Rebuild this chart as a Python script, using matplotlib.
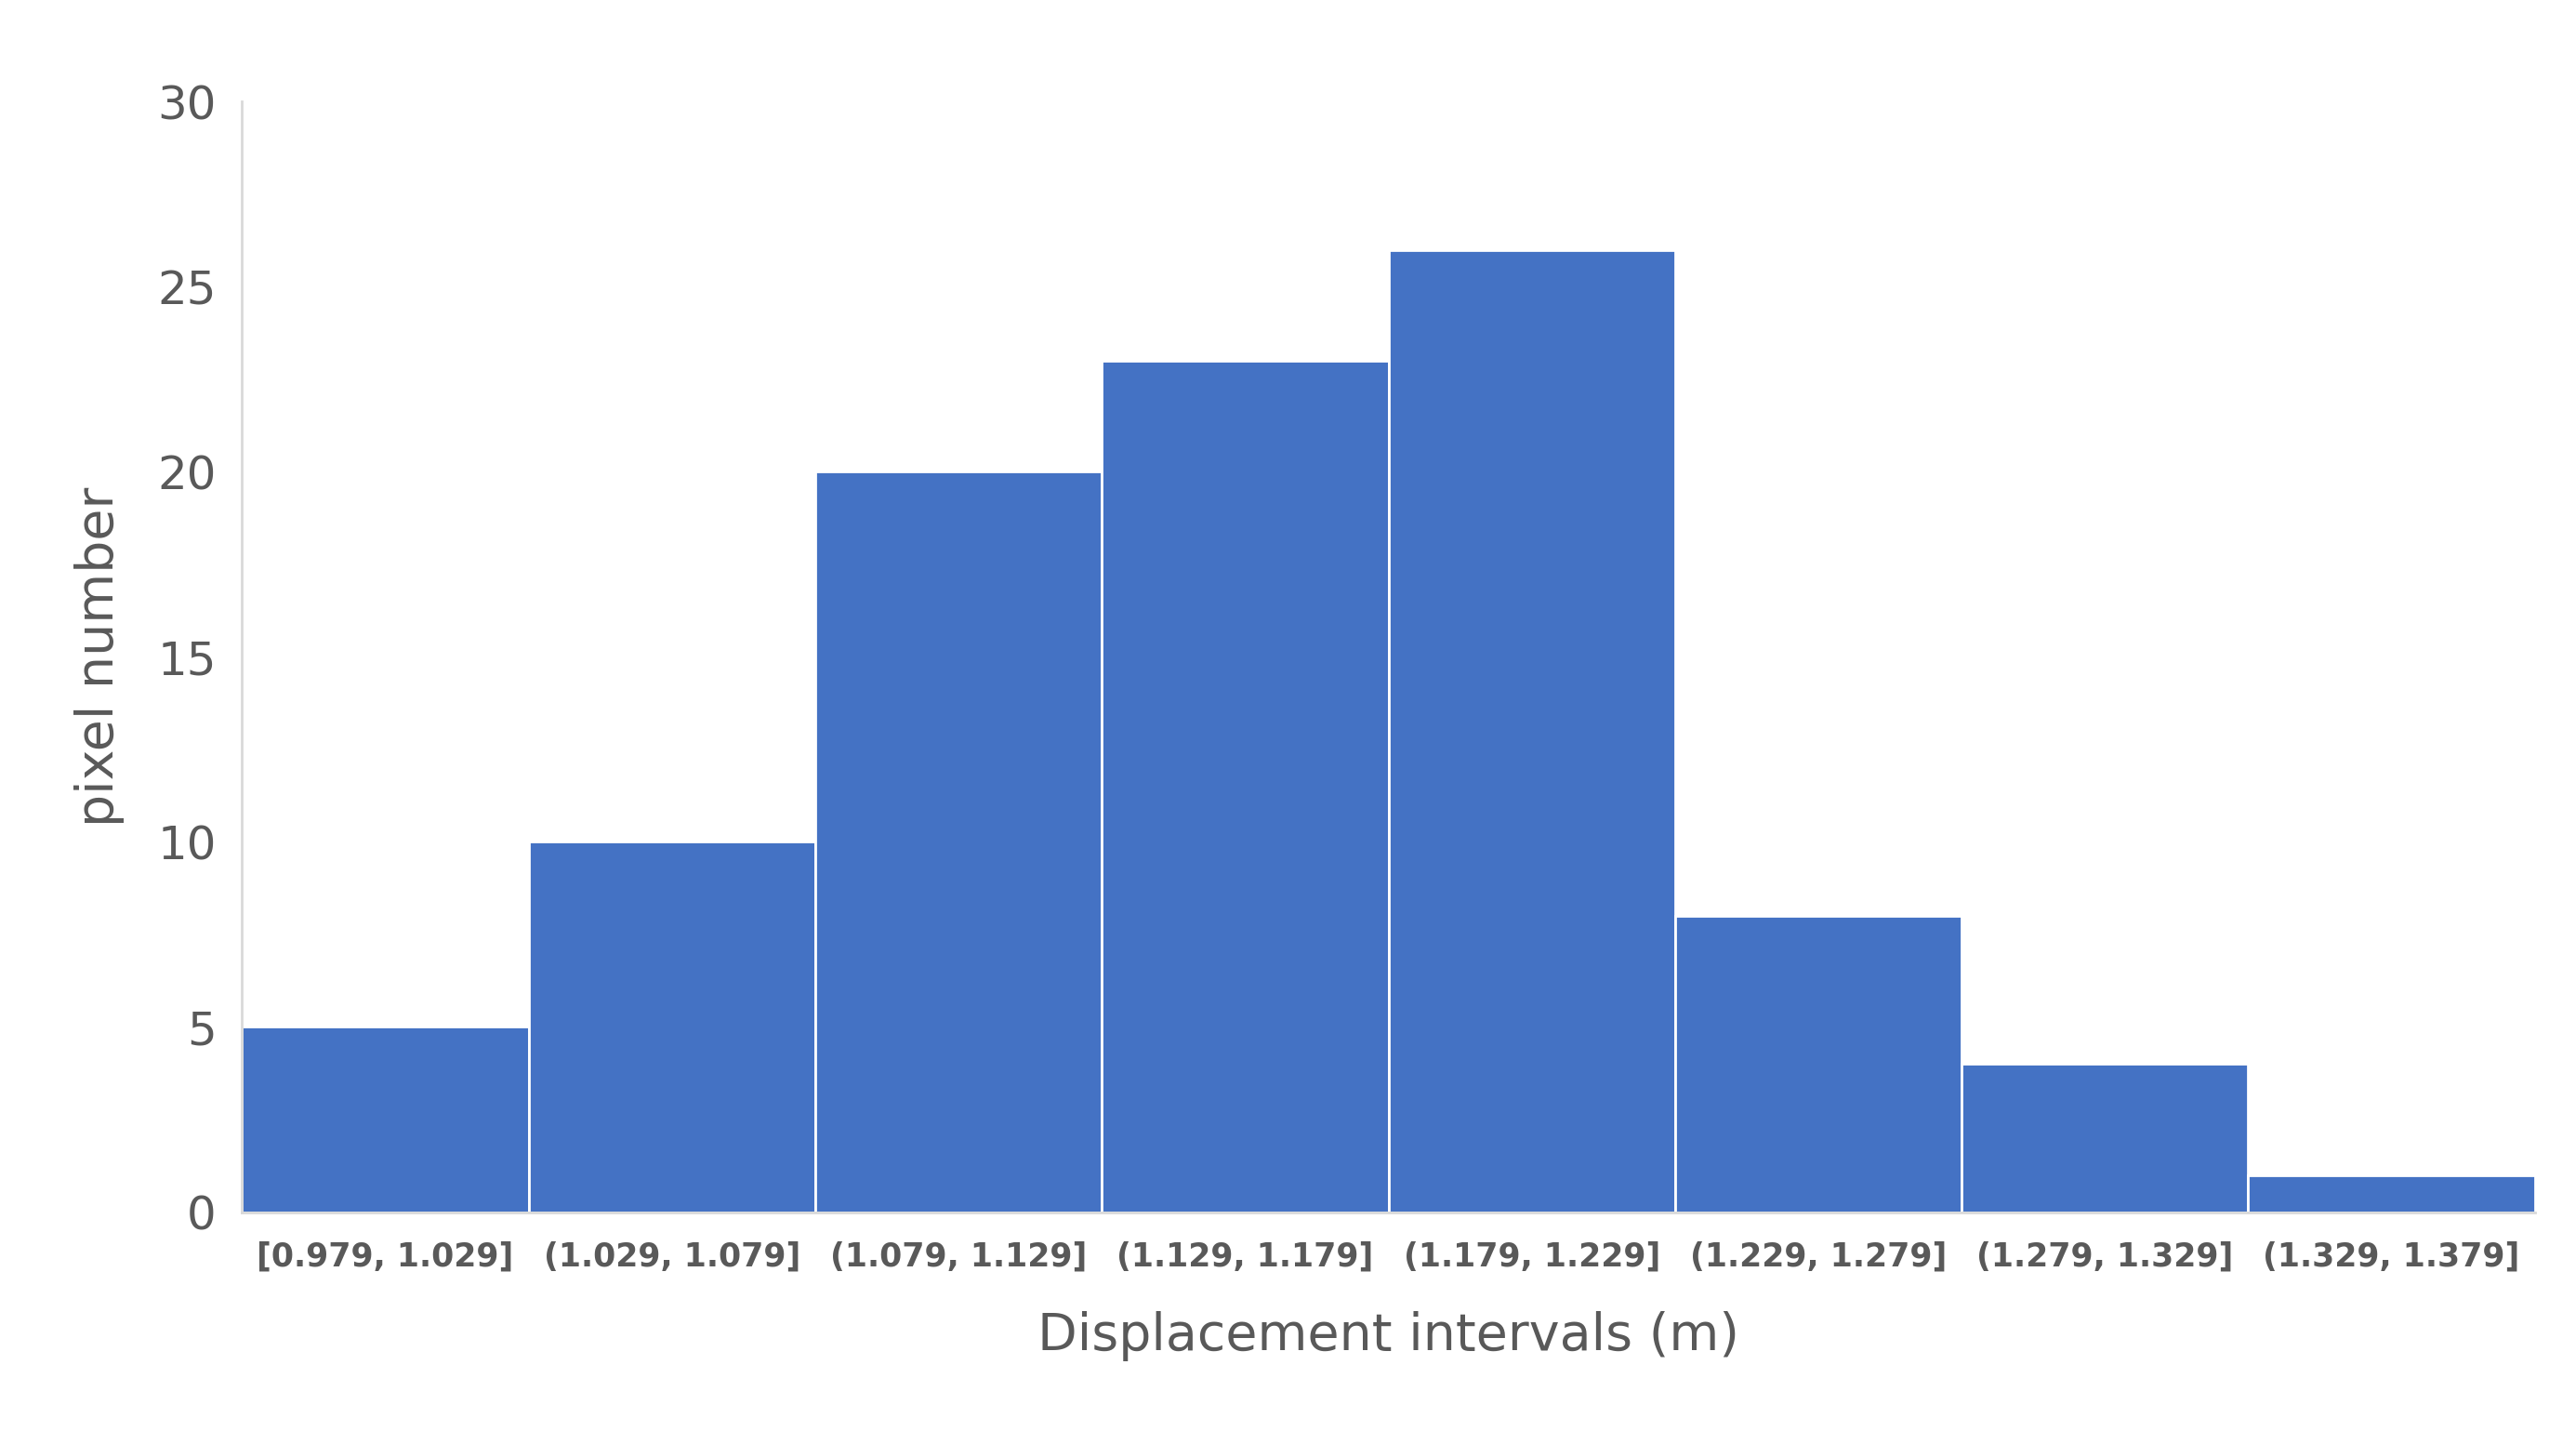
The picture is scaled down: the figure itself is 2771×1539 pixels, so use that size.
import numpy as np
import matplotlib.pyplot as plt

# histogram data
intervals = ["[0.979, 1.029]", "(1.029, 1.079]", "(1.079, 1.129]", "(1.129, 1.179]",
             "(1.179, 1.229]", "(1.229, 1.279]", "(1.279, 1.329]", "(1.329, 1.379]"]
counts = [5, 10, 20, 23, 26, 8, 4, 1]

grey = "#595959"
fig = plt.figure(figsize=(27.71, 15.39), dpi=100)
ax = fig.add_axes([0.094, 0.153, 0.89, 0.776])

x = np.arange(len(counts))
ax.bar(x, counts, width=1.0, color="#4472C4", edgecolor="white", linewidth=2)
ax.set_xlim(-0.5, len(counts) - 0.5)
ax.set_ylim(0, 30)
ax.set_yticks(range(0, 31, 5))
ax.set_xticks(x)
ax.set_xticklabels(intervals, fontsize=25, fontweight="bold", color=grey)
ax.tick_params(axis="y", labelsize=36, colors=grey, length=0, pad=20)
ax.tick_params(axis="x", length=0, pad=22)

for s in ["top", "right"]:
    ax.spines[s].set_visible(False)
ax.spines["left"].set_color("#D9D9D9")
ax.spines["bottom"].set_color("#D9D9D9")
ax.spines["left"].set_linewidth(2)
ax.spines["bottom"].set_linewidth(2)

ax.set_xlabel("Displacement intervals (m)", fontsize=40, color=grey, labelpad=30)
ax.set_ylabel("pixel number", fontsize=40, color=grey, labelpad=25)

fig.savefig("out.png", dpi=100, facecolor="white")
